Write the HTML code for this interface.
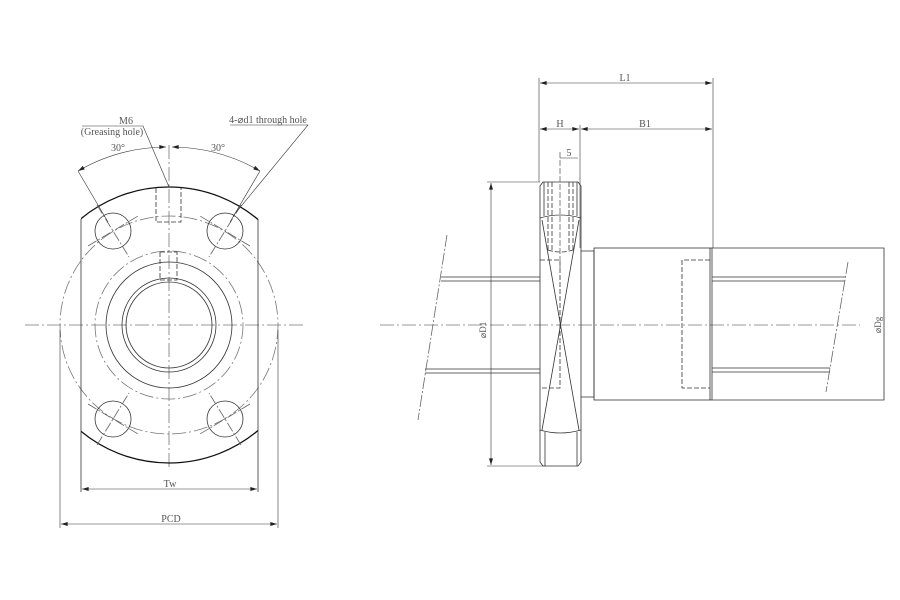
<!DOCTYPE html>
<html><head><meta charset="utf-8"><style>body{margin:0;background:#fff}svg{display:block}text{font-family:"Liberation Serif",serif;font-size:10px;fill:#555}</style></head><body>
<svg width="900" height="600" viewBox="0 0 900 600" xmlns="http://www.w3.org/2000/svg">
<defs>
<marker id="a" viewBox="0 0 10 6" refX="10" refY="3" markerWidth="9" markerHeight="4" orient="auto-start-reverse" markerUnits="userSpaceOnUse"><path d="M0,0L10,3L0,6z" fill="#222"/></marker>
<clipPath id="fl"><rect x="81" y="0" width="177" height="600"/></clipPath>
</defs>
<g fill="none" stroke="#333" stroke-width="0.8">
<g stroke="#777" stroke-dasharray="14,3,2,3">
<line x1="25" y1="325" x2="305" y2="325"/>
<line x1="169" y1="145" x2="169" y2="470"/>
<circle cx="169" cy="325" r="109"/>
<circle cx="169" cy="325" r="74"/>
</g>
<circle cx="169" cy="325" r="138" clip-path="url(#fl)" stroke="#111" stroke-width="1.3"/>
<line x1="81" y1="219" x2="81" y2="492"/>
<line x1="258" y1="219" x2="258" y2="492"/>
<circle cx="169" cy="325" r="63"/>
<circle cx="169" cy="325" r="47"/>
<circle cx="169" cy="325" r="43"/>
<g stroke-dasharray="5,2">
<path d="M156,188V222H181V188M160,252V280H177V252M160,252H177"/>
</g>
<circle cx="113" cy="231" r="18"/><circle cx="225" cy="231" r="18"/>
<circle cx="113" cy="419" r="18"/><circle cx="225" cy="419" r="18"/>
<g stroke="#666" stroke-dasharray="10,2,2,2">
<line x1="97" y1="205" x2="129" y2="257"/><line x1="88" y1="246" x2="138" y2="216"/>
<line x1="241" y1="205" x2="209" y2="257"/><line x1="250" y1="246" x2="200" y2="216"/>
<line x1="97" y1="445" x2="129" y2="393"/><line x1="88" y1="404" x2="138" y2="434"/>
<line x1="241" y1="445" x2="209" y2="393"/><line x1="250" y1="404" x2="200" y2="434"/>
</g>
<path d="M78,171A178,178 0 0 1 166,147" marker-start="url(#a)" marker-end="url(#a)" stroke-width="0.6"/>
<path d="M172,147A178,178 0 0 1 260,171" marker-start="url(#a)" marker-end="url(#a)" stroke-width="0.6"/>
<line x1="78" y1="171" x2="108" y2="222" stroke-width="0.6"/>
<line x1="260" y1="171" x2="230" y2="222" stroke-width="0.6"/>
<path d="M82,126H143L169,187" stroke-width="0.6"/>
<path d="M230,125H308L233,216" stroke-width="0.6"/>
<line x1="60" y1="330" x2="60" y2="528" stroke-width="0.6"/>
<line x1="278" y1="330" x2="278" y2="528" stroke-width="0.6"/>
<line x1="82" y1="489" x2="257" y2="489" marker-start="url(#a)" marker-end="url(#a)" stroke-width="0.6"/>
<line x1="61" y1="524" x2="277" y2="524" marker-start="url(#a)" marker-end="url(#a)" stroke-width="0.6"/>
<line x1="380" y1="325" x2="860" y2="325" stroke="#777" stroke-dasharray="14,3,2,3"/>
<path d="M540,186L543,182H578L581,186V462L578,466H543L540,462Z"/>
<line x1="544" y1="182" x2="544" y2="216"/><line x1="577" y1="182" x2="577" y2="216"/>
<path d="M540,218Q560,212 581,218"/>
<path d="M540,430Q560,436 581,430"/>
<line x1="545" y1="432" x2="545" y2="466"/><line x1="577" y1="432" x2="577" y2="466"/>
<path d="M542,220L579,430M579,220L542,430"/>
<g stroke-dasharray="5,2">
<path d="M548,182V250M552,182V250M569,182V250M573,182V250M548,250Q560,254 573,250"/>
<path d="M540,260H560V388H540"/>
<path d="M710,260H682V388H710"/>
</g>
<line x1="560" y1="152" x2="560" y2="272" stroke-dasharray="6,2" stroke="#666"/>
<path d="M581,251H594V397H581"/>
<rect x="594" y="248" width="118" height="152"/>
<line x1="710" y1="248" x2="710" y2="400"/>
<path d="M712,248H884V400H712"/>
<path d="M712,277H845M712,281H845M712,368H830M712,372H830"/>
<path d="M441,277H540M441,281H540M425,369H540M425,373H540"/>
<g stroke="#666" stroke-dasharray="12,2,2,2">
<line x1="848" y1="262" x2="826" y2="392"/>
<line x1="447" y1="235" x2="418" y2="420"/>
</g>
<g stroke-width="0.6">
<line x1="487" y1="182" x2="540" y2="182"/><line x1="487" y1="466" x2="545" y2="466"/>
<line x1="491" y1="183" x2="491" y2="465" marker-start="url(#a)" marker-end="url(#a)"/>
<line x1="539" y1="78" x2="539" y2="182"/><line x1="713" y1="78" x2="713" y2="248"/>
<line x1="580" y1="125" x2="580" y2="248"/>
<line x1="540" y1="83" x2="712" y2="83" marker-start="url(#a)" marker-end="url(#a)"/>
<line x1="540" y1="129" x2="579" y2="129" marker-start="url(#a)" marker-end="url(#a)"/>
<line x1="581" y1="129" x2="712" y2="129" marker-start="url(#a)" marker-end="url(#a)"/>
<path d="M560,158H578"/>
</g>
</g>
<text x="126" y="124" text-anchor="middle">M6</text>
<text x="112" y="135" text-anchor="middle">(Greasing hole)</text>
<text x="118" y="151" text-anchor="middle">30°</text>
<text x="218" y="151" text-anchor="middle">30°</text>
<text x="268" y="123" text-anchor="middle">4-⌀d1 through hole</text>
<text x="170" y="487" text-anchor="middle">Tw</text>
<text x="171" y="522" text-anchor="middle">PCD</text>
<text x="625" y="81" text-anchor="middle">L1</text>
<text x="560" y="127" text-anchor="middle">H</text>
<text x="645" y="127" text-anchor="middle">B1</text>
<text x="569" y="156" text-anchor="middle">5</text>
<text transform="translate(486,330) rotate(-90)" text-anchor="middle" style="font-size:9px">⌀D1</text>
<text transform="translate(881,325) rotate(-90)" text-anchor="middle" style="font-size:9px">⌀Dg</text>
</svg>
</body></html>
